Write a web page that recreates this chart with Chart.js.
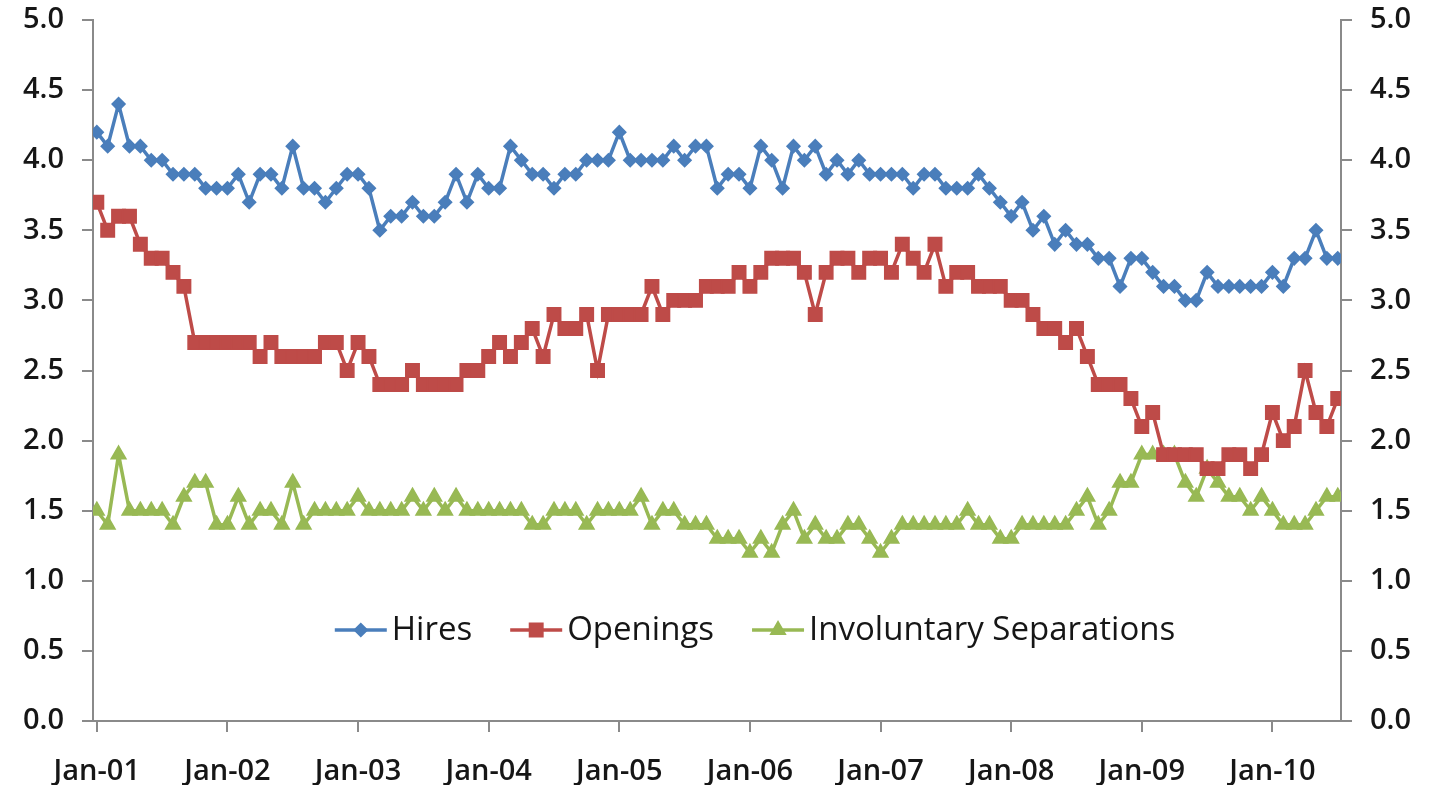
<!DOCTYPE html>
<html>
<head>
<meta charset="utf-8">
<script src="https://cdn.jsdelivr.net/npm/chart.js@4.4.1/dist/chart.umd.min.js"></script>
<style>
  html, body { margin: 0; padding: 0; background: #fff; }
</style>
</head>
<body>
<canvas id="myChart" width="1433" height="785"></canvas>
<script>
// tick labels on the x axis, one per January (every 12th month)
var yearLabels = ['Jan-01', 'Jan-02', 'Jan-03', 'Jan-04', 'Jan-05', 'Jan-06', 'Jan-07', 'Jan-08', 'Jan-09', 'Jan-10'];

// monthly rates, Jan 2001 .. Jul 2010
var hires = [
  4.2, 4.1, 4.4, 4.1, 4.1, 4.0, 4.0, 3.9, 3.9, 3.9,
  3.8, 3.8, 3.8, 3.9, 3.7, 3.9, 3.9, 3.8, 4.1, 3.8,
  3.8, 3.7, 3.8, 3.9, 3.9, 3.8, 3.5, 3.6, 3.6, 3.7,
  3.6, 3.6, 3.7, 3.9, 3.7, 3.9, 3.8, 3.8, 4.1, 4.0,
  3.9, 3.9, 3.8, 3.9, 3.9, 4.0, 4.0, 4.0, 4.2, 4.0,
  4.0, 4.0, 4.0, 4.1, 4.0, 4.1, 4.1, 3.8, 3.9, 3.9,
  3.8, 4.1, 4.0, 3.8, 4.1, 4.0, 4.1, 3.9, 4.0, 3.9,
  4.0, 3.9, 3.9, 3.9, 3.9, 3.8, 3.9, 3.9, 3.8, 3.8,
  3.8, 3.9, 3.8, 3.7, 3.6, 3.7, 3.5, 3.6, 3.4, 3.5,
  3.4, 3.4, 3.3, 3.3, 3.1, 3.3, 3.3, 3.2, 3.1, 3.1,
  3.0, 3.0, 3.2, 3.1, 3.1, 3.1, 3.1, 3.1, 3.2, 3.1,
  3.3, 3.3, 3.5, 3.3, 3.3
];
var openings = [
  3.7, 3.5, 3.6, 3.6, 3.4, 3.3, 3.3, 3.2, 3.1, 2.7,
  2.7, 2.7, 2.7, 2.7, 2.7, 2.6, 2.7, 2.6, 2.6, 2.6,
  2.6, 2.7, 2.7, 2.5, 2.7, 2.6, 2.4, 2.4, 2.4, 2.5,
  2.4, 2.4, 2.4, 2.4, 2.5, 2.5, 2.6, 2.7, 2.6, 2.7,
  2.8, 2.6, 2.9, 2.8, 2.8, 2.9, 2.5, 2.9, 2.9, 2.9,
  2.9, 3.1, 2.9, 3.0, 3.0, 3.0, 3.1, 3.1, 3.1, 3.2,
  3.1, 3.2, 3.3, 3.3, 3.3, 3.2, 2.9, 3.2, 3.3, 3.3,
  3.2, 3.3, 3.3, 3.2, 3.4, 3.3, 3.2, 3.4, 3.1, 3.2,
  3.2, 3.1, 3.1, 3.1, 3.0, 3.0, 2.9, 2.8, 2.8, 2.7,
  2.8, 2.6, 2.4, 2.4, 2.4, 2.3, 2.1, 2.2, 1.9, 1.9,
  1.9, 1.9, 1.8, 1.8, 1.9, 1.9, 1.8, 1.9, 2.2, 2.0,
  2.1, 2.5, 2.2, 2.1, 2.3
];
var separations = [
  1.5, 1.4, 1.9, 1.5, 1.5, 1.5, 1.5, 1.4, 1.6, 1.7,
  1.7, 1.4, 1.4, 1.6, 1.4, 1.5, 1.5, 1.4, 1.7, 1.4,
  1.5, 1.5, 1.5, 1.5, 1.6, 1.5, 1.5, 1.5, 1.5, 1.6,
  1.5, 1.6, 1.5, 1.6, 1.5, 1.5, 1.5, 1.5, 1.5, 1.5,
  1.4, 1.4, 1.5, 1.5, 1.5, 1.4, 1.5, 1.5, 1.5, 1.5,
  1.6, 1.4, 1.5, 1.5, 1.4, 1.4, 1.4, 1.3, 1.3, 1.3,
  1.2, 1.3, 1.2, 1.4, 1.5, 1.3, 1.4, 1.3, 1.3, 1.4,
  1.4, 1.3, 1.2, 1.3, 1.4, 1.4, 1.4, 1.4, 1.4, 1.4,
  1.5, 1.4, 1.4, 1.3, 1.3, 1.4, 1.4, 1.4, 1.4, 1.4,
  1.5, 1.6, 1.4, 1.5, 1.7, 1.7, 1.9, 1.9, 1.9, 1.9,
  1.7, 1.6, 1.8, 1.7, 1.6, 1.6, 1.5, 1.6, 1.5, 1.4,
  1.4, 1.4, 1.5, 1.6, 1.6
];

function toPoints(values) {
  return values.map(function(v, i) { return { x: i, y: v }; });
}

var axisGray = '#8a8a8a';
var textColor = '#161616';
var tickFont = { family: '"Open Sans", sans-serif', size: 29, weight: '600' };

// legend drawn inside the plot area, as in the original
var innerLegend = {
  id: 'innerLegend',
  afterDatasetsDraw: function(chart, args, opts) {
    var ctx = chart.ctx;
    ctx.save();
    ctx.font = opts.font;
    var items = chart.data.datasets.map(function(ds) {
      return { ds: ds, w: ctx.measureText(ds.label).width };
    });
    var total = 0;
    items.forEach(function(it, i) {
      total += opts.lineLength + opts.textGap + it.w + (i ? opts.itemGap : 0);
    });
    var x = opts.centerX - total / 2;
    var y = opts.y;
    items.forEach(function(it) {
      var ds = it.ds;
      ctx.strokeStyle = ds.borderColor;
      ctx.lineWidth = ds.borderWidth;
      ctx.beginPath();
      ctx.moveTo(x, y);
      ctx.lineTo(x + opts.lineLength, y);
      ctx.stroke();
      ctx.fillStyle = ds.pointBackgroundColor;
      ctx.strokeStyle = ds.pointBorderColor;
      ctx.lineWidth = ds.pointBorderWidth;
      Chart.helpers.drawPoint(ctx, { pointStyle: ds.pointStyle, radius: ds.pointRadius, borderWidth: ds.pointBorderWidth, rotation: 0 }, x + opts.lineLength / 2, y);
      ctx.fillStyle = textColor;
      ctx.textBaseline = 'middle';
      ctx.textAlign = 'left';
      ctx.fillText(ds.label, x + opts.lineLength + opts.textGap, y + 1);
      x += opts.lineLength + opts.textGap + it.w + opts.itemGap;
    });
    ctx.restore();
  }
};

function series(label, values, color, style, radius) {
  return {
    label: label,
    data: toPoints(values),
    borderColor: color,
    backgroundColor: color,
    borderWidth: 3.5,
    pointStyle: style,
    pointRadius: radius,
    pointBackgroundColor: color,
    pointBorderColor: color,
    pointBorderWidth: 1.5,
    tension: 0,
    fill: false,
    yAxisID: 'y'
  };
}

// keep the half-height of the end labels from pushing the plot area inward
function fitY(width) {
  return function(scale) {
    scale.width = width;
    scale.paddingTop = 0;
    scale.paddingBottom = 0;
  };
}

var ctx = document.getElementById('myChart').getContext('2d');
var chart = new Chart(ctx, {
  type: 'line',
  data: {
    datasets: [
      series('Hires', hires, '#4a7ebb', 'rectRot', 6.5),
      series('Openings', openings, '#be4b48', 'rect', 9.5),
      series('Involuntary Separations', separations, '#98b954', 'triangle', 8.5)
    ]
  },
  options: {
    responsive: false,
    animation: false,
    layout: { padding: { top: 20, bottom: 0, left: 0, right: 0 } },
    plugins: {
      legend: { display: false },
      tooltip: { enabled: false },
      innerLegend: {
        centerX: 755, y: 630, lineLength: 52, textGap: 5, itemGap: 38,
        font: '500 33px "Open Sans", sans-serif'
      }
    },
    scales: {
      x: {
        type: 'linear',
        min: -0.35,
        max: 114.3,
        afterBuildTicks: function(scale) {
          scale.ticks = yearLabels.map(function(l, i) { return { value: i * 12 }; });
        },
        afterFit: function(scale) { scale.height = 64; },
        ticks: {
          autoSkip: false,
          maxRotation: 0,
          padding: 22,
          color: textColor,
          font: tickFont,
          callback: function(value) { return yearLabels[Math.round(value / 12)]; }
        },
        grid: { drawOnChartArea: false, drawTicks: true, tickLength: 11, color: axisGray, lineWidth: 2 },
        border: { display: true, color: axisGray, width: 2 }
      },
      y: {
        position: 'left',
        min: 0,
        max: 5,
        afterFit: fitY(93),
        ticks: {
          stepSize: 0.5,
          padding: 18,
          color: textColor,
          font: tickFont,
          callback: function(v) { return v.toFixed(1); }
        },
        grid: { drawOnChartArea: false, drawTicks: true, tickLength: 11, color: axisGray, lineWidth: 2 },
        border: { display: true, color: axisGray, width: 2 }
      },
      y2: {
        position: 'right',
        min: 0,
        max: 5,
        afterFit: fitY(92),
        ticks: {
          stepSize: 0.5,
          padding: 18,
          color: textColor,
          font: tickFont,
          callback: function(v) { return v.toFixed(1); }
        },
        grid: { drawOnChartArea: false, drawTicks: true, tickLength: 11, color: axisGray, lineWidth: 2 },
        border: { display: true, color: axisGray, width: 2 }
      }
    }
  },
  plugins: [innerLegend]
});
</script>
</body>
</html>
